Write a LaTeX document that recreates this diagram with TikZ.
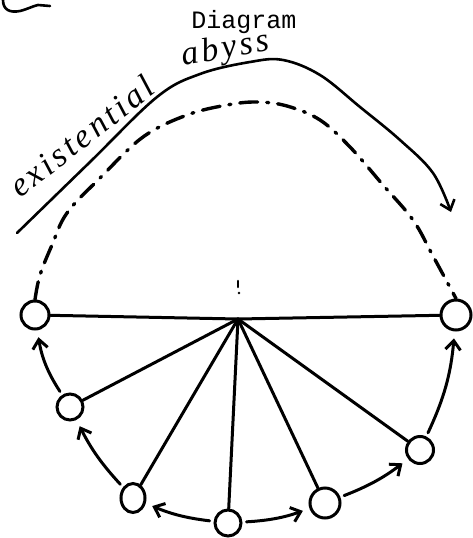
\documentclass[tikz,border=0pt]{standalone}
\usepackage{fontspec}
\usetikzlibrary{arrows.meta,shapes.geometric}
\newfontfamily\typew{Liberation Mono}
\newfontfamily\hand{Liberation Serif}[LetterSpace=10]
\begin{document}
\begin{tikzpicture}[x=1pt,y=-1pt,
  ink/.style={line width=2.6pt,line cap=round,line join=round},
  blob/.style={circle,draw,line width=3pt,inner sep=0pt,minimum size=#1},
  oval/.style={ellipse,draw,line width=3pt,inner sep=0pt},
  spoke/.style={ink,line width=3pt},
  barb/.style={-{Straight Barb[length=9pt,width=15pt]}},
  arr/.style={ink,line width=3pt,barb,shorten <=4pt,shorten >=7pt},
  dashline/.style={ink,line width=3.4pt,dash pattern=on 18pt off 9pt on 2pt off 9pt},
  handtext/.style={font=\hand\itshape\fontsize{34}{34}\selectfont,inner sep=0pt},
]
\useasboundingbox (0,0) rectangle (472,538);

% title
\node[font=\typew\fontsize{25}{25}\selectfont,anchor=base,inner sep=0pt] (title) at (244,28) {Diagram};

% corner mark
\draw[ink] (3,0) .. controls (3,10) and (10,13) .. (20,11) .. controls (28,9) and (33,6) .. (38,5) -- (50,6);

% hub and circles
\coordinate (hub) at (238,319);
\node[blob=28pt] (L1) at (35,315) {};
\node[blob=26pt] (L2) at (70,407) {};
\node[oval,minimum width=24pt,minimum height=29pt] (L3) at (133,498) {};
\node[blob=26pt] (B) at (228,523) {};
\node[blob=30pt] (R3) at (325,503) {};
\node[blob=27pt] (R2) at (420,450) {};
\node[blob=30pt] (R1) at (456,315) {};

% small tick above hub
\draw[ink] (238,281) -- (238,287);
\fill (239,293) circle (1.3pt);

% spokes
\foreach \c in {L1,L2,L3,B,R3,R2,R1} \draw[spoke] (hub) -- (\c);

% arrows along the rim
\draw[arr] (L2) to[bend left=12] (L1);
\draw[arr] (L3) to[bend left=8] (L2);
\draw[arr] (B) to[bend left=8] (L3);
\draw[arr] (B) to[bend right=8] (R3);
\draw[arr] (R3) to[bend right=8] (R2);
\draw[arr] (R2) to[bend right=10] (R1);

% dashed arc
\draw[dashline] plot[smooth,tension=0.6] coordinates {(L1.north) (40,275) (52,245) (67,213) (100,178) (143,137) (187,115) (227,105) (257,102) (287,106) (320,120) (350,147) (383,185) (413,220) (433,256) (R1.north)};

% solid arc with arrow
\draw[ink,barb] plot[smooth,tension=0.6] coordinates {(17,233) (90,162) (157,97) (200,74) (250,62) (283,60) (320,75) (360,107) (400,140) (433,173) (451,212)};

% handwritten label
\node[handtext,anchor=base west,rotate=38] (lab1) at (20,199) {existential};
\node[handtext,anchor=base west,rotate=10] (lab2) at (183,66) {abyss};
\end{tikzpicture}
\end{document}
